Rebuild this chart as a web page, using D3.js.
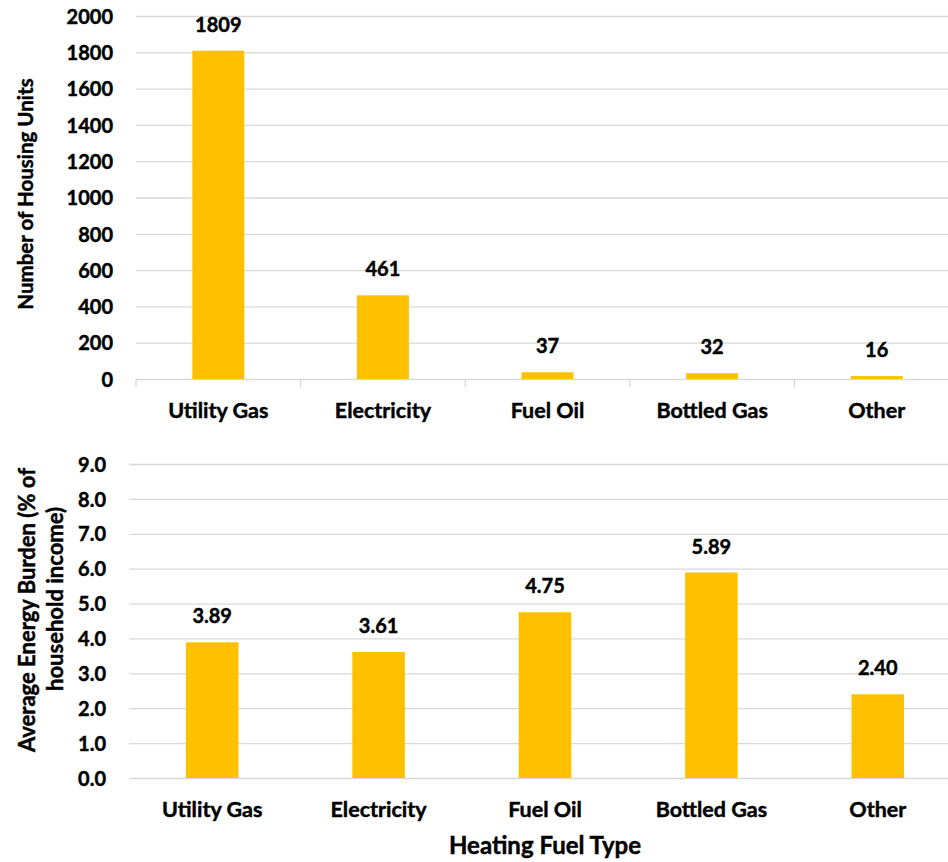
<!DOCTYPE html>
<html>
<head>
<meta charset="utf-8">
<script src="https://cdn.jsdelivr.net/npm/d3@7"></script>
<style>
  html, body { margin: 0; padding: 0; background: #fff; }
  svg { display: block; }
  text { font-family: Lato, "Open Sans", sans-serif; font-weight: 700; fill: #000;
         stroke: #000; stroke-width: 0.45px; }
</style>
</head>
<body>
<svg id="chart" width="948" height="862"></svg>
<script>
// Heating fuel categories shared by both panels
const fuelTypes = ["Utility Gas", "Electricity", "Fuel Oil", "Bottled Gas", "Other"];
// Number of housing units by heating fuel
const housingUnits = [1809, 461, 37, 32, 16];
// Average energy burden (% of household income) by heating fuel
const energyBurden = [3.89, 3.61, 4.75, 5.89, 2.40];
// Axis tick values
const unitTicks = [0, 200, 400, 600, 800, 1000, 1200, 1400, 1600, 1800, 2000];
const burdenTicks = [0, 1, 2, 3, 4, 5, 6, 7, 8, 9];

const BAR = "#FFC000";
const GRID = "#d9d9d9";
const FONT = 20;
const CAT_FONT = 21.5;

const svg = d3.select("#chart");

function panel(opts) {
  const g = svg.append("g");
  const x = d3.scaleBand()
    .domain(fuelTypes)
    .range([opts.left, opts.right])
    .paddingInner(0.684)
    .paddingOuter(0.342);
  const y = d3.scaleLinear().domain(opts.domain).range([opts.bottom, opts.top]);
  const w = opts.right - opts.left;

  // horizontal gridlines
  g.append("g")
    .attr("transform", `translate(${opts.left},0)`)
    .call(d3.axisLeft(y).tickValues(opts.ticks).tickSize(-w).tickFormat(""))
    .call(s => s.select(".domain").remove())
    .call(s => s.selectAll("line").attr("stroke", GRID).attr("stroke-width", 1.3));

  // category tick marks below the baseline
  if (opts.catTicks) {
    const step = x.step();
    g.append("g").selectAll("line")
      .data(d3.range(fuelTypes.length + 1))
      .join("line")
      .attr("x1", i => opts.left + i * step)
      .attr("x2", i => opts.left + i * step)
      .attr("y1", y(0))
      .attr("y2", y(0) + 8)
      .attr("stroke", GRID)
      .attr("stroke-width", 1.3);
  }

  // y tick labels
  g.append("g")
    .attr("transform", `translate(${opts.left},0)`)
    .call(d3.axisLeft(y).tickValues(opts.ticks).tickSize(0).tickPadding(23).tickFormat(opts.fmt))
    .call(s => s.select(".domain").remove())
    .call(s => s.selectAll("text")
      .attr("font-size", FONT)
      .attr("font-family", null)
      .attr("fill", "#000")
      .attr("dy", "0.36em"));

  // bars
  g.append("g").selectAll("rect")
    .data(opts.values)
    .join("rect")
    .attr("x", (d, i) => x(fuelTypes[i]))
    .attr("width", x.bandwidth())
    .attr("y", d => y(d))
    .attr("height", d => y(0) - y(d))
    .attr("fill", BAR);

  // value labels
  g.append("g").selectAll("text")
    .data(opts.values)
    .join("text")
    .attr("x", (d, i) => x(fuelTypes[i]) + x.bandwidth() / 2)
    .attr("y", d => y(d) - 19)
    .attr("text-anchor", "middle")
    .attr("font-size", FONT)
    .text(opts.label);

  // category labels
  g.append("g")
    .attr("transform", `translate(0,${opts.catY})`)
    .call(d3.axisBottom(x).tickSize(0).tickPadding(0))
    .call(s => s.select(".domain").remove())
    .call(s => s.selectAll("text")
      .attr("font-size", CAT_FONT)
      .attr("font-family", null)
      .attr("fill", "#000")
      .attr("y", 0)
      .attr("dy", null));

  return { g, x, y };
}

// Top panel: housing units
panel({
  left: 136, right: 959, top: 16, bottom: 379,
  domain: [0, 2000], ticks: unitTicks, fmt: d3.format("d"),
  values: housingUnits, label: d => d3.format("d")(d),
  catTicks: true, catY: 418
});

// Bottom panel: energy burden
panel({
  left: 129, right: 961, top: 464, bottom: 778,
  domain: [0, 9], ticks: burdenTicks, fmt: d3.format(".1f"),
  values: energyBurden, label: d => d3.format(".2f")(d),
  catTicks: false, catY: 817
});

// Axis titles
svg.append("text")
  .attr("transform", "translate(33,194) rotate(-90)")
  .attr("text-anchor", "middle")
  .attr("font-size", 20.5)
  .text("Number of Housing Units");

svg.append("text")
  .attr("transform", "translate(35,610) rotate(-90)")
  .attr("text-anchor", "middle")
  .attr("font-size", 22)
  .text("Average Energy Burden (% of");

svg.append("text")
  .attr("transform", "translate(63,599) rotate(-90)")
  .attr("text-anchor", "middle")
  .attr("font-size", 22)
  .text("household income)");

svg.append("text")
  .attr("x", 545)
  .attr("y", 854)
  .attr("text-anchor", "middle")
  .attr("font-size", 24)
  .text("Heating Fuel Type");
</script>
</body>
</html>
